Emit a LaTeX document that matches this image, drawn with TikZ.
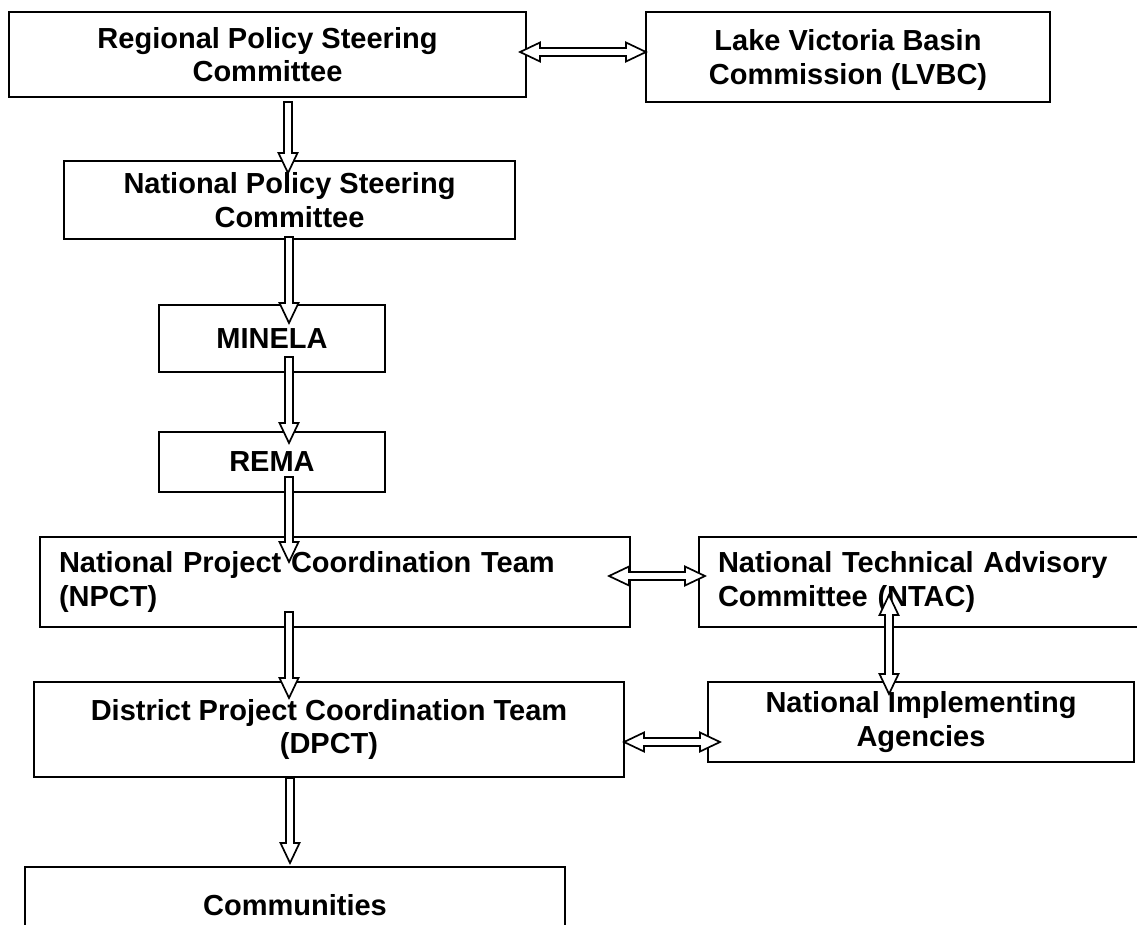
\documentclass[tikz,border=0pt]{standalone}
\usepackage{fontspec}
\setmainfont{Liberation Sans}
\usetikzlibrary{calc}

\tikzset{
  box/.style={draw, line width=2pt, fill=white, inner sep=0pt, align=center,
    font=\bfseries\fontsize{29}{33.5}\selectfont},
  leftbox/.style={box, align=left, inner xsep=19pt},
  downflow/.style={draw, line width=1.7pt, fill=white, line join=miter,
    to path={
      ($(\tikztotarget)!20pt!(\tikztostart)$) coordinate (hb)
      ($(\tikztostart)!4pt!90:(\tikztotarget)$)
      -- ($(hb)!4pt!90:(\tikztotarget)$)
      -- ($(hb)!9.5pt!90:(\tikztotarget)$)
      -- (\tikztotarget)
      -- ($(hb)!9.5pt!-90:(\tikztotarget)$)
      -- ($(hb)!4pt!-90:(\tikztotarget)$)
      -- ($(\tikztostart)!4pt!-90:(\tikztotarget)$) -- cycle}},
  twoway/.style={draw, line width=1.7pt, fill=white, line join=miter,
    to path={
      ($(\tikztostart)!20pt!(\tikztotarget)$) coordinate (ha)
      ($(\tikztotarget)!20pt!(\tikztostart)$) coordinate (hb)
      (\tikztostart)
      -- ($(ha)!9.5pt!90:(\tikztotarget)$)
      -- ($(ha)!4pt!90:(\tikztotarget)$)
      -- ($(hb)!4pt!90:(\tikztotarget)$)
      -- ($(hb)!9.5pt!90:(\tikztotarget)$)
      -- (\tikztotarget)
      -- ($(hb)!9.5pt!-90:(\tikztotarget)$)
      -- ($(hb)!4pt!-90:(\tikztotarget)$)
      -- ($(ha)!4pt!-90:(\tikztotarget)$)
      -- ($(ha)!9.5pt!-90:(\tikztotarget)$) -- cycle}}
}

\begin{document}
\begin{tikzpicture}[x=1pt,y=-1pt]
  \useasboundingbox (0,0) rectangle (1137,924);
  \clip (0,0) rectangle (1137,924);

  % boxes
  \node[box, minimum width=517pt, minimum height=85pt] (rpsc) at (267.5,54.5) {Regional Policy Steering\\Committee};
  \node[box, minimum width=404pt, minimum height=90pt, text depth=-10pt] (lvbc) at (848,57) {Lake Victoria Basin\\Commission (LVBC)};
  \node[box, minimum width=451pt, minimum height=78pt, text depth=-12pt] (npsc) at (289.5,200) {National Policy Steering\\Committee};
  \node[box, minimum width=226pt, minimum height=67pt] (minela) at (272,338.5) {MINELA};
  \node[box, minimum width=226pt, minimum height=60pt] (rema) at (272,462) {REMA};
  \node[leftbox, text width=552pt, minimum height=90pt] (npct) at (335,582) {National Project Coordination Team\\(NPCT)};
  \node[leftbox, text width=433pt, minimum height=90pt] (ntac) at (934.5,582) {National Technical Advisory\\Committee (NTAC)};
  \node[box, minimum width=590pt, minimum height=95pt] (dpct) at (329,729.5) {District Project Coordination Team\\(DPCT)};
  \node[box, minimum width=426pt, minimum height=80pt] (nia) at (921,722) {National Implementing\\Agencies};
  \node[box, minimum width=540pt, minimum height=76pt] (comm) at (295,905) {Communities};

  % arrow ends
  \coordinate (s1) at (288,102);  \coordinate (t1) at (288,173);
  \coordinate (s2) at (289,237);  \coordinate (t2) at (289,323);
  \coordinate (s3) at (289,357);  \coordinate (t3) at (289,443);
  \coordinate (s4) at (289,477);  \coordinate (t4) at (289,562);
  \coordinate (s5) at (289,612);  \coordinate (t5) at (289,698);
  \coordinate (s6) at (290,778);  \coordinate (t6) at (290,863);
  \coordinate (l1) at (520,52);   \coordinate (r1) at (646,52);
  \coordinate (l2) at (609,576);  \coordinate (r2) at (705,576);
  \coordinate (l3) at (624,742);  \coordinate (r3) at (720,742);
  \coordinate (u1) at (889,595);  \coordinate (d1) at (889,694);

  \draw[downflow] (s1) to (t1);
  \draw[downflow] (s2) to (t2);
  \draw[downflow] (s3) to (t3);
  \draw[downflow] (s4) to (t4);
  \draw[downflow] (s5) to (t5);
  \draw[downflow] (s6) to (t6);
  \draw[twoway] (l1) to (r1);
  \draw[twoway] (l2) to (r2);
  \draw[twoway] (l3) to (r3);
  \draw[twoway] (u1) to (d1);
\end{tikzpicture}
\end{document}
